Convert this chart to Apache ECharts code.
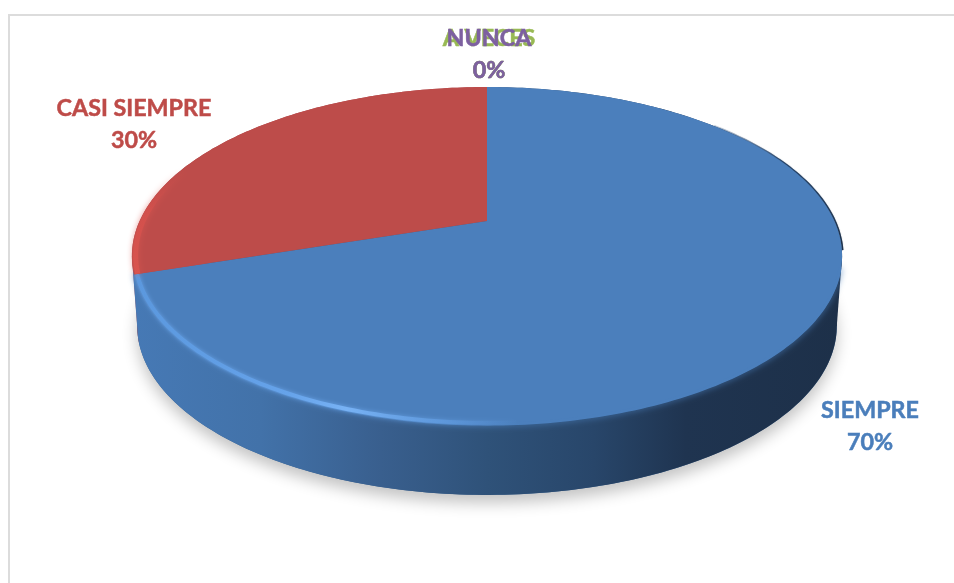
<!DOCTYPE html>
<html>
<head>
<meta charset="utf-8">
<style>html,body{margin:0;padding:0;background:#fff}#chart{width:954px;height:583px}</style>
<script src="https://cdn.jsdelivr.net/npm/echarts@6/dist/echarts.min.js"></script>
</head>
<body>
<div id="chart"></div>
<script>
const categories = ['SIEMPRE', 'CASI SIEMPRE', 'A VECES', 'NUNCA'];
const values = [70, 30, 0, 0];
const faceColors = ['#4b7fbc', '#bd4c4a', '#98b954', '#7d60a0'];
const labelColors = ['#4a7ebb', '#be4b48', '#98b954', '#7d60a0'];
const labelCenters = [[870, 426], [134, 124], [489, 54], [489, 54]];

const total = values.reduce((a, b) => a + b, 0);
const start = values.map((_, i) => values.slice(0, i).reduce((a, b) => a + b, 0) / total * 360);
const end = values.map((v, i) => start[i] + v / total * 360);

// perspective view of the pie disc
const cx = 487, cy = 221, a = 347.4, b = 161.7, k = -0.207, depth = 70, lowerShrink = 0.985;
function proj(deg, r, lower) {
  const t = deg * Math.PI / 180, u = Math.sin(t) * r, v = -Math.cos(t) * r, d = 1 + k * v;
  return [cx + (lower ? a * lowerShrink : a) * u / d, cy + b * v / d + (lower ? depth : 0)];
}
function arc(s, e, r, lower) {
  const pts = [];
  const n = Math.max(1, Math.ceil(e - s));
  for (let i = 0; i <= n; i++) pts.push(proj(s + (e - s) * i / n, r, lower));
  return pts;
}
const grad = (x0, y0, x1, y1, stops) => new echarts.graphic.LinearGradient(x0, y0, x1, y1,
  stops.map(s => ({ offset: s[0], color: s[1] })));
// widest point of the disc outline on one side, top or lower rim
function widest(sign, lower) {
  const pts = arc(0, 360, 1, lower);
  return pts.reduce((best, p) => (p[0] * sign > best[0] * sign ? p : best), pts[0]);
}

function sideItem(params) {
  const i = params.dataIndex, children = [];
  if (i === 0) {
    children.push({
      type: 'polygon', z2: 0, shape: { points: arc(0, 360, 1, true) },
      style: { fill: '#3a6391', shadowBlur: 15, shadowColor: 'rgba(0,0,0,0.24)', shadowOffsetY: 8 }
    });
    children.push({
      type: 'polygon', z2: 1, shape: { points: [widest(1, false), widest(1, true), [cx, cy + depth]] },
      style: { fill: '#1d3049' }
    });
    children.push({
      type: 'polyline', z2: 3, shape: { points: arc(48, 100, 1.002, false) },
      style: { fill: null, lineWidth: 1.6, shadowBlur: 1, shadowColor: 'rgba(29,48,73,0.6)',
        stroke: grad(0, 1, 0, 0, [[0, '#1d3049'], [0.7, '#27456a'], [1, 'rgba(60,100,150,0.2)']]) }
    });
  }
  if (i === 1) {
    children.push({
      type: 'polygon', z2: 1, shape: { points: [widest(-1, false), widest(-1, true), [cx, cy + depth]] },
      style: { fill: '#a8494f' }
    });
  }
  if (values[i] > 0) {
    const e = i === 0 ? end[i] + 2.5 : end[i];
    const pts = arc(start[i], e, 1, false).concat(arc(start[i], e, 1, true).reverse());
    const fill = i === 0
      ? grad(0, 0, 1, 0, [[0, '#4679b5'], [0.18, '#4272a9'], [0.35, '#395f8e'], [0.5, '#2f5279'],
          [0.65, '#28466a'], [0.78, '#1f3450'], [1, '#1d3049']])
      : '#a8494f';
    children.push({ type: 'polygon', z2: i === 0 ? 2 : 1, shape: { points: pts }, style: { fill } });
  }
  return { type: 'group', children };
}

function faceItem(params) {
  const i = params.dataIndex, children = [];
  if (values[i] > 0) {
    children.push({
      type: 'polygon',
      shape: { points: [[cx, cy]].concat(arc(start[i], end[i], 1, false)) },
      style: { fill: faceColors[i] }
    });
    if (i === 0) {
      // soft fold between the disc and its wall, front edge only
      children.push({
        type: 'polyline', shape: { points: arc(106, end[i], 0.997, false) },
        style: { fill: null, lineWidth: 3, stroke: faceColors[i], shadowBlur: 6, shadowColor: faceColors[i] }
      });
      children.push({
        type: 'polyline', shape: { points: arc(176, end[i], 0.992, false) },
        style: {
          fill: null, lineWidth: 4, shadowBlur: 4, shadowColor: 'rgba(110,170,240,0.8)',
          stroke: grad(0, 0, 1, 0, [[0, '#5b98de'], [0.4, '#66a3ea'], [0.55, '#78b2f4'], [0.8, 'rgba(100,160,230,0.6)'], [1, 'rgba(90,150,220,0)']])
        }
      });
    } else {
      children.push({
        type: 'polyline', shape: { points: arc(start[i], start[i] + 38, 0.99, false) },
        style: {
          fill: null, lineWidth: 5, shadowBlur: 6, shadowColor: 'rgba(220,86,80,0.7)',
          stroke: grad(0, 1, 0, 0, [[0, '#d9544f'], [0.6, '#d2504c'], [1, 'rgba(190,76,74,0)']])
        }
      });
    }
  }
  return { type: 'group', children };
}

function labelItem(params) {
  const i = params.dataIndex;
  return {
    type: 'text',
    style: {
      text: categories[i] + '\n' + values[i] + '%',
      x: labelCenters[i][0], y: labelCenters[i][1],
      align: 'center', verticalAlign: 'middle',
      fill: labelColors[i], fontFamily: 'Lato', fontWeight: 'bold', fontSize: 23.3, lineHeight: 32,
      stroke: labelColors[i], lineWidth: 0.5
    }
  };
}

const seriesData = values.map((v, i) => ({ name: categories[i], value: [i, v] }));
const chart = echarts.init(document.getElementById('chart'), null, { renderer: 'canvas' });
chart.setOption({
  animation: false,
  backgroundColor: '#ffffff',
  graphic: [{
    type: 'rect', z: 0, silent: true,
    shape: { x: 9, y: 15, width: 1000, height: 700 },
    style: { fill: '#fff', stroke: '#dcdcdc', lineWidth: 2 }
  }],
  series: [
    { type: 'custom', coordinateSystem: 'none', z: 2, data: seriesData, renderItem: sideItem, silent: true, clip: false },
    { type: 'custom', coordinateSystem: 'none', z: 3, data: seriesData, renderItem: faceItem, silent: true, clip: false },
    { type: 'custom', coordinateSystem: 'none', z: 4, data: seriesData, renderItem: labelItem, silent: true, clip: false }
  ]
});
</script>
</body>
</html>
